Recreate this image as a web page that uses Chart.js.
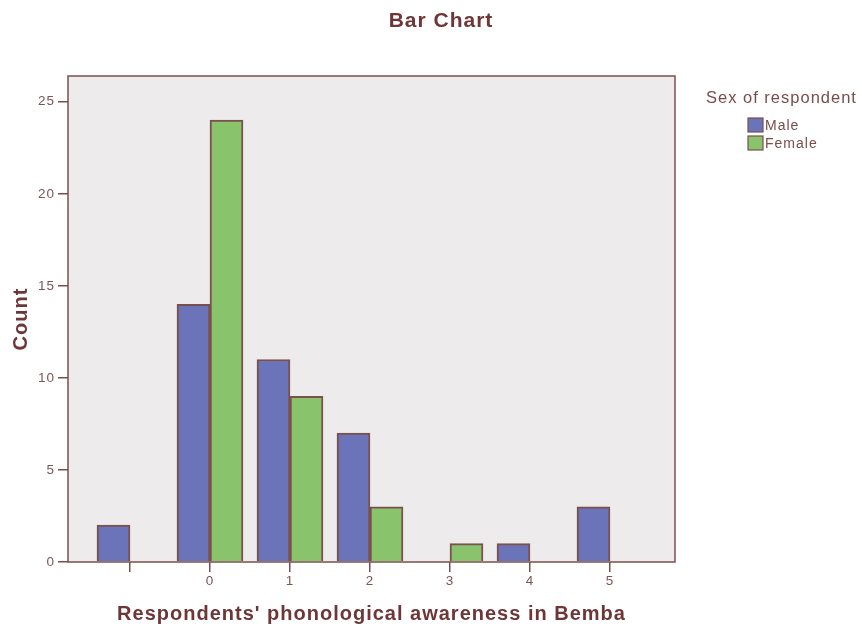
<!DOCTYPE html>
<html>
<head>
<meta charset="utf-8">
<script src="https://cdn.jsdelivr.net/npm/chart.js@4.4.1/dist/chart.umd.min.js"></script>
<style>
  html, body { margin: 0; padding: 0; background: #fff; }
  #wrap { width: 862px; height: 626px; position: relative; }
</style>
</head>
<body>
<div id="wrap"><canvas id="chart" width="862" height="626"></canvas></div>
<script>
// categories on the x axis (first one is blank in the source)
const categories = ['', '0', '1', '2', '3', '4', '5'];
const maleCounts = [2, 14, 11, 7, 0, 1, 3];
const femaleCounts = [0, 24, 9, 3, 1, 0, 0];
const yTicks = [0, 5, 10, 15, 20, 25];

const textColor = '#6e3636';
const tickColor = '#7a5656';
const lineColor = '#7b4f4c';
const fontFamily = '"Liberation Sans", Arial, sans-serif';

function toPoints(arr) {
    return arr.map(function (v, i) { return { x: i, y: v === 0 ? null : v }; });
}

// SPSS text is a bit spaced out
const spacingPlugin = {
    id: 'spacing',
    beforeInit(chart) { chart.ctx.letterSpacing = '1px'; },
    beforeDraw(chart) { chart.ctx.letterSpacing = '1px'; }
};

// plot background + frame
const framePlugin = {
    id: 'frame',
    beforeDatasetsDraw(chart) {
        const a = chart.chartArea, ctx = chart.ctx;
        ctx.save();
        ctx.fillStyle = '#edebeb';
        ctx.fillRect(a.left, a.top, a.right - a.left, a.bottom - a.top);
        ctx.restore();
    },
    afterDatasetsDraw(chart) {
        const a = chart.chartArea, ctx = chart.ctx;
        ctx.save();
        ctx.strokeStyle = lineColor;
        ctx.lineWidth = 1.5;
        ctx.strokeRect(a.left, a.top, a.right - a.left, a.bottom - a.top);
        ctx.restore();
    }
};

// title + legend drawn the SPSS way
const decorPlugin = {
    id: 'decor',
    afterDraw(chart) {
        const ctx = chart.ctx;
        ctx.save();
        ctx.fillStyle = textColor;
        ctx.font = 'bold 21px ' + fontFamily;
        ctx.textAlign = 'center';
        ctx.textBaseline = 'middle';
        ctx.fillText('Bar Chart', 441, 21);

        ctx.textAlign = 'left';
        ctx.font = '16.5px ' + fontFamily;
        ctx.fillStyle = '#7a4c4c';
        ctx.fillText('Sex of respondent', 706, 98);

        ctx.font = '14px ' + fontFamily;
        chart.data.datasets.forEach(function (ds, i) {
            const y = 118 + i * 18;
            ctx.fillStyle = ds.backgroundColor;
            ctx.fillRect(748, y, 15, 14);
            ctx.strokeStyle = lineColor;
            ctx.lineWidth = 1.2;
            ctx.strokeRect(748, y, 15, 14);
            ctx.fillStyle = '#7a4c4c';
            ctx.fillText(ds.label, 765, y + 8);
        });
        ctx.restore();
    }
};

const ctx = document.getElementById('chart').getContext('2d');
const chart = new Chart(ctx, {
    type: 'bar',
    data: {
        datasets: [{
            label: 'Male',
            data: toPoints(maleCounts),
            backgroundColor: '#6b74b8',
            borderColor: lineColor,
            borderWidth: 2,
            barThickness: 33
        }, {
            label: 'Female',
            data: toPoints(femaleCounts),
            backgroundColor: '#89c46c',
            borderColor: lineColor,
            borderWidth: 2,
            barThickness: 33
        }]
    },
    options: {
        responsive: false,
        animation: false,
        layout: { padding: { top: 76, right: 187, bottom: 0, left: 0 } },
        plugins: {
            legend: { display: false },
            title: { display: false },
            tooltip: { enabled: false }
        },
        scales: {
            x: {
                type: 'linear',
                offset: false,
                min: -0.775,
                max: 6.8125,
                afterFit: function (s) { s.height = 64; },
                afterBuildTicks: function (s) {
                    s.ticks = categories.map(function (c, i) { return { value: i }; });
                },
                ticks: {
                    stepSize: 1,
                    includeBounds: false,
                    autoSkip: false,
                    maxRotation: 0,
                    color: tickColor,
                    padding: 1,
                    font: { family: fontFamily, size: 13.5 },
                    callback: function (v) { return categories[v] !== undefined ? categories[v] : ''; }
                },
                grid: { offset: false, drawOnChartArea: false, drawTicks: true, tickLength: 10, color: lineColor, lineWidth: 1.5 },
                border: { display: false },
                title: {
                    display: true,
                    text: "Respondents' phonological awareness in Bemba",
                    color: textColor,
                    padding: { top: 0, bottom: 0 },
                    font: { family: fontFamily, size: 20, weight: 'bold' }
                }
            },
            y: {
                min: 0,
                max: 26.4,
                afterFit: function (s) { s.width = 68; },
                afterBuildTicks: function (s) {
                    s.ticks = yTicks.map(function (v) { return { value: v }; });
                },
                ticks: {
                    stepSize: 5,
                    includeBounds: false,
                    color: tickColor,
                    padding: 3,
                    font: { family: fontFamily, size: 13.5 }
                },
                grid: { drawOnChartArea: false, drawTicks: true, tickLength: 10, color: lineColor, lineWidth: 1.5 },
                border: { display: false },
                title: {
                    display: true,
                    text: 'Count',
                    color: textColor,
                    padding: { top: 9, bottom: 0 },
                    font: { family: fontFamily, size: 20, weight: 'bold' }
                }
            }
        }
    },
    plugins: [spacingPlugin, framePlugin, decorPlugin]
});
</script>
</body>
</html>
